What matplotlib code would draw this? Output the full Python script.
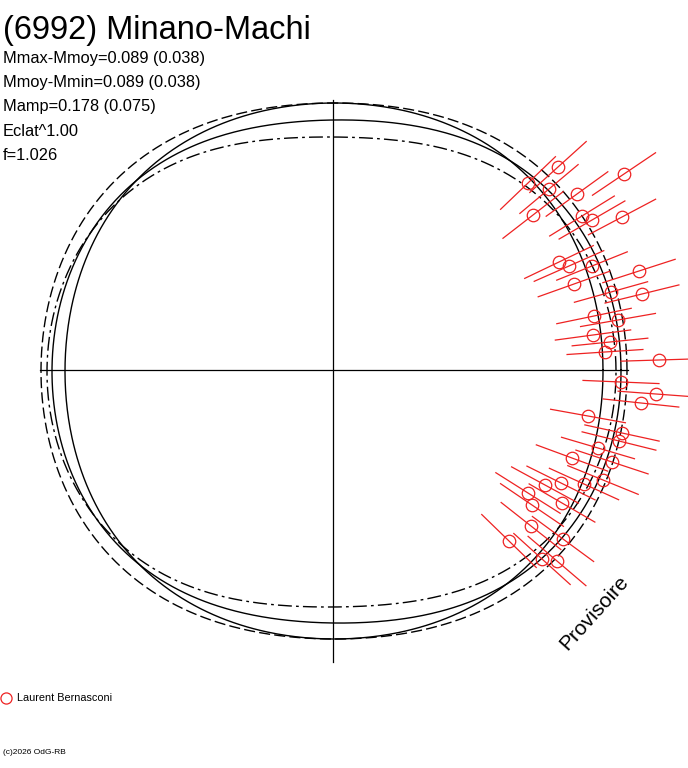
import numpy as np
import matplotlib
matplotlib.use("Agg")
import matplotlib.pyplot as plt

pt_x = [558,624,528,549,577,533,582,592,622,559,569,592,639,574,642,611,594,618,593,610,605,659,
        621,656,641,588,622,619,598,612,572,603,561,584,545,528,532,562,531,563,509,542,557]
pt_y = [167,174,183,189,194,215,216,220,217,262,266,266,271,284,294,292,316,320,335,342,352,360,
        382,394,403,416,433,441,448,462,458,480,483,484,485,493,505,503,526,539,541,559,561]
cx, cy = 333, 370

info = ["Mmax-Mmoy=0.089 (0.038)", "Mmoy-Mmin=0.089 (0.038)", "Mamp=0.178 (0.075)", "Eclat^1.00", "f=1.026"]

# curve shapes: R, cos1, sin1, cos2, cos4, linestyle
curves = [
    (271.5, 1.0, -1.0, 0.5, -3, '-'),
    (272.0, 3.5, -1.5, 16.5, -4, '-'),
    (284.5, 1.0, -1.0, 12.5, -4, (0, (8, 3))),
    (263.75, -1.5, -2.0, 24.75, -4, (0, (10, 3, 2, 3))),
]

fig = plt.figure(figsize=(6.88, 7.68), dpi=100)
ax = fig.add_axes([0, 0, 1, 1])
ax.set_xlim(0, 688); ax.set_ylim(768, 0); ax.axis('off')

ax.plot([40, 628], [370, 370], color='black', lw=0.9)
ax.plot([333, 333], [100, 662], color='black', lw=0.9)

t = np.radians(np.linspace(0, 360, 721))
for R, h, v, a, c, ls in curves:
    r = R + h*np.cos(t) + v*np.sin(t) + a*np.cos(2*t) + c*np.cos(4*t)
    ax.plot(cx + r*np.cos(t), cy - r*np.sin(t), color='black', lw=1.0, linestyle=ls)

for x, y in zip(pt_x, pt_y):
    dx, dy = x - cx, y - cy
    d = np.hypot(dx, dy)
    ux, uy = dx/d, dy/d
    L = 38
    ax.plot([x - L*ux, x + L*ux], [y - L*uy, y + L*uy], color='#ee2222', lw=0.9)
    ax.plot(x, y, 'o', mfc='none', mec='#ee2222', ms=9, mew=0.9)

ax.text(3, 31, "(6992) Minano-Machi", fontsize=23.5, va='center', family='Liberation Sans')
for i, s in enumerate(info):
    ax.text(3, 59 + i*24, s, fontsize=11.8, va='center', family='Liberation Sans')
ax.text(556, 650, "Provisoire", fontsize=15, rotation=48, family='Liberation Sans')
ax.plot(6, 698, 'o', mfc='none', mec='#ee2222', ms=8, mew=0.9)
ax.text(17, 698, "Laurent Bernasconi", fontsize=7.8, va='center', family='Liberation Sans')
ax.text(3, 753, "(c)2026 OdG-RB", fontsize=6, va='center', family='Liberation Sans')

fig.savefig("out.png", dpi=100)
